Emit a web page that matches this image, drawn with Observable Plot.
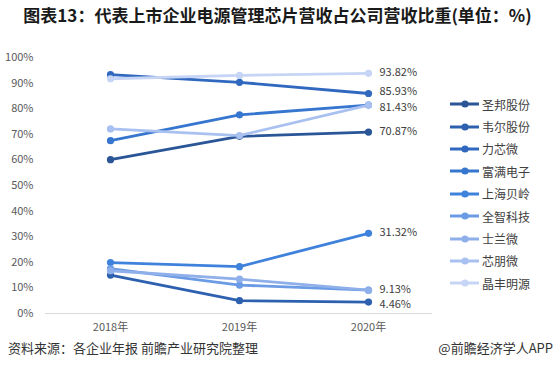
<!DOCTYPE html>
<html><head><meta charset="utf-8">
<script src="https://cdn.jsdelivr.net/npm/d3@7"></script>
<script src="https://cdn.jsdelivr.net/npm/@observablehq/plot@0.6"></script>
<style>
body{margin:0;background:#fff;font-family:"Noto Sans CJK SC","Noto Sans",sans-serif;}
#wrap{position:relative;width:555px;height:377px;overflow:hidden;background:#fff}
#title{height:30px;line-height:30px;text-align:center;font-size:17px;font-weight:bold;color:#1a1a1a;white-space:nowrap}
#chart{height:310px}
#chart svg{display:block}
#legend{position:absolute;left:450px;top:93px;display:flex;flex-direction:column}
.row{height:22.4px;display:flex;align-items:center;font-size:12px;color:#404040}
.row svg{margin-right:2px}
#footer{position:absolute;top:340px;left:0;width:555px;height:16px;font-size:13px;line-height:16px;color:#333}
#src{position:absolute;left:8px;top:0;white-space:nowrap}
#brand{position:absolute;right:2px;top:0;white-space:nowrap}
</style></head>
<body>
<div id="wrap">
  <div id="title">图表13：代表上市企业电源管理芯片营收占公司营收比重(单位：%)</div>
  <div id="chart"></div>
  <div id="legend"></div>
  <div id="footer"><span id="src">资料来源：各企业年报 前瞻产业研究院整理</span><span id="brand">@前瞻经济学人APP</span></div>
</div>
<script>
const years = ["2018年", "2019年", "2020年"];
const names = ["圣邦股份", "韦尔股份", "力芯微", "富满电子", "上海贝岭", "全智科技", "士兰微", "芯朋微", "晶丰明源"];
const colors = ["#2a5596", "#2d60ae", "#3068bf", "#3676cf", "#3f82dc", "#6b9be4", "#8eafea", "#a9c1f1", "#c6d5f5"];
const sbgf = [60.1, 69.2, 70.87];
const wegf = [15.0, 5.0, 4.46];
const lxw  = [93.3, 90.3, 85.93];
const fmdz = [67.5, 77.6, 81.43];
const shbl = [19.9, 18.3, 31.32];
const qzkj = [17.5, 11.1, 9.13];
const slw  = [16.7, 13.4, 9.13];
const xpw  = [72.1, 69.5, 81.43];
const jfmy = [91.7, 93.0, 93.82];
const series = [sbgf, wegf, lxw, fmdz, shbl, qzkj, slw, xpw, jfmy];
const labeledMid = ["士兰微", "晶丰明源", "圣邦股份", "上海贝岭"];
const labeledUp = ["力芯微"];
const labeledDown = ["富满电子", "韦尔股份"];
const yTicks = [0, 10, 20, 30, 40, 50, 60, 70, 80, 90, 100];

const data = [];
names.forEach((n, i) => years.forEach((y, j) => data.push({name: n, year: y, value: series[i][j]})));
const last = data.filter(d => d.year === years[2]);
const pick = list => last.filter(d => list.includes(d.name));
const fmt = d => d.value.toFixed(2) + "%";
const lab = (rows, dy) => Plot.text(rows, {x: "year", y: "value", text: fmt, dx: 11, dy, textAnchor: "start", fill: "#404040", fontSize: 11});

const fam = '"Noto Sans CJK SC","Noto Sans",sans-serif';
const chart = Plot.plot({
  width: 555, height: 310,
  marginLeft: 45, marginRight: 123, marginTop: 27, marginBottom: 27,
  style: {fontFamily: fam, fontSize: "11px", color: "#595959", background: "transparent", overflow: "visible"},
  x: {type: "point", domain: years, padding: 0.5, label: null, tickSize: 0, tickPadding: 10},
  y: {domain: [0, 100], ticks: yTicks, tickFormat: d => d + "%", label: null, tickSize: 0, tickPadding: 12},
  color: {domain: names, range: colors},
  marks: [
    Plot.ruleY([0], {stroke: "#d9d9d9", strokeWidth: 1}),
    Plot.line(data, {x: "year", y: "value", z: "name", stroke: "name", strokeWidth: 2.8}),
    Plot.dot(data, {x: "year", y: "value", fill: "name", r: 3.6}),
    lab(pick(labeledMid), -1),
    lab(pick(labeledUp), -2.5),
    lab(pick(labeledDown), 2)
  ]
});
document.getElementById("chart").appendChild(chart);

const leg = document.getElementById("legend");
names.forEach((n, i) => {
  const row = document.createElement("div");
  row.className = "row";
  row.innerHTML = `<svg width="30" height="10"><line x1="0" x2="29" y1="5" y2="5" stroke="${colors[i]}" stroke-width="3"/><circle cx="15" cy="5" r="3.6" fill="${colors[i]}"/></svg><span>${n}</span>`;
  leg.appendChild(row);
});
</script>
</body></html>
